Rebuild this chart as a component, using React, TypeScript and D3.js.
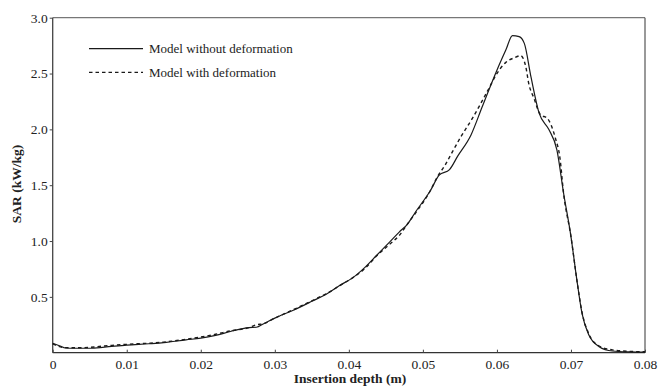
import React, { useEffect, useRef } from 'react';
import * as d3 from 'd3';

// insertion depth (m)
const depthNoDef = [0, 0.001, 0.0017, 0.003, 0.005, 0.007, 0.01, 0.013, 0.015, 0.018, 0.02, 0.022, 0.024, 0.0265, 0.0275, 0.0285, 0.03, 0.0325, 0.035, 0.0371, 0.0387, 0.0405, 0.0421, 0.0438, 0.0455, 0.0468, 0.0479, 0.049, 0.051, 0.0522, 0.0536, 0.0547, 0.0565, 0.058, 0.06, 0.0612, 0.0621, 0.063, 0.0637, 0.0646, 0.0657, 0.067, 0.0681, 0.069, 0.07, 0.0708, 0.0715, 0.0724, 0.0738, 0.0756, 0.078, 0.08];
// SAR (kW/kg), model without deformation
const sarNoDef = [0.085, 0.06, 0.042, 0.04, 0.04, 0.05, 0.068, 0.08, 0.09, 0.115, 0.13, 0.155, 0.19, 0.225, 0.228, 0.26, 0.31, 0.38, 0.46, 0.53, 0.6, 0.67, 0.76, 0.875, 0.99, 1.08, 1.15, 1.26, 1.45, 1.59, 1.64, 1.76, 1.95, 2.2, 2.53, 2.71, 2.84, 2.83, 2.77, 2.47, 2.145, 2.0, 1.816, 1.43, 1.04, 0.65, 0.35, 0.16, 0.054, 0.015, 0.007, 0.005];

const depthDef = [0, 0.0017, 0.004, 0.007, 0.01, 0.013, 0.015, 0.018, 0.02, 0.022, 0.024, 0.0265, 0.0275, 0.0285, 0.03, 0.0325, 0.035, 0.037, 0.039, 0.0405, 0.0421, 0.0438, 0.0455, 0.0468, 0.048, 0.049, 0.051, 0.052, 0.053, 0.054, 0.0551, 0.0567, 0.0587, 0.06, 0.0612, 0.0623, 0.0632, 0.0639, 0.0643, 0.065, 0.0659, 0.0668, 0.0679, 0.0685, 0.069, 0.07, 0.0708, 0.0715, 0.0724, 0.0738, 0.0756, 0.078, 0.08];
// SAR (kW/kg), model with deformation
const sarDef = [0.08, 0.045, 0.045, 0.06, 0.075, 0.085, 0.095, 0.12, 0.14, 0.165, 0.195, 0.225, 0.25, 0.26, 0.31, 0.385, 0.465, 0.53, 0.61, 0.67, 0.75, 0.87, 0.97, 1.05, 1.16, 1.25, 1.45, 1.58, 1.68, 1.8, 1.93, 2.1, 2.34, 2.5, 2.6, 2.64, 2.66, 2.56, 2.41, 2.28, 2.13, 2.1, 1.92, 1.75, 1.43, 1.04, 0.65, 0.36, 0.17, 0.06, 0.025, 0.012, 0.008];

const xTicks = [0, 0.01, 0.02, 0.03, 0.04, 0.05, 0.06, 0.07, 0.08];
const yTicks = [0.5, 1.0, 1.5, 2.0, 2.5, 3.0];
const seriesNames = ['Model without deformation', 'Model with deformation'];

const W = 658;
const H = 387;
const margin = { left: 52.7, right: 13, top: 17.7, bottom: 34.3 };
const font = '"Liberation Serif", "Times New Roman", serif';

export default function App() {
  const xRef = useRef<SVGGElement>(null);
  const yRef = useRef<SVGGElement>(null);

  const x = d3.scaleLinear().domain([0, 0.08]).range([margin.left, W - margin.right]);
  const y = d3.scaleLinear().domain([0, 3]).range([H - margin.bottom, margin.top]);

  const line = d3.line<[number, number]>()
    .x(d => x(d[0]))
    .y(d => y(d[1]))
    .curve(d3.curveMonotoneX);

  const solid = line(depthNoDef.map((d, i) => [d, sarNoDef[i]]));
  const dashed = line(depthDef.map((d, i) => [d, sarDef[i]]));

  useEffect(() => {
    const gx = d3.select(xRef.current);
    gx.selectAll('*').remove();
    gx.call(
      d3.axisBottom(x)
        .tickValues(xTicks)
        .tickSize(-3)
        .tickPadding(7)
        .tickFormat((d: any) => (d === 0 ? '0' : d3.format('.2f')(d)))
    );
    gx.select('.domain').remove();
    gx.selectAll('line').attr('stroke', '#444');
    gx.selectAll('text')
      .attr('font-family', font)
      .attr('font-size', 13.5)
      .attr('fill', '#222');

    const gy = d3.select(yRef.current);
    gy.selectAll('*').remove();
    gy.call(
      d3.axisLeft(y)
        .tickValues(yTicks)
        .tickSize(3)
        .tickPadding(2)
        .tickFormat(d3.format('.1f') as any)
    );
    gy.select('.domain').remove();
    gy.selectAll('line').attr('stroke', '#444');
    gy.selectAll('text')
      .attr('font-family', font)
      .attr('font-size', 13.5)
      .attr('fill', '#222');
  }, []);

  const x0 = margin.left;
  const x1 = W - margin.right;
  const y0 = H - margin.bottom;
  const y1 = margin.top;

  return (
    <svg width={W} height={H} style={{ position: 'absolute', left: 0, top: 0, background: '#fff' }}>
      <rect x={0} y={0} width={W} height={H} fill="#fff" />
      {/* frame */}
      <line x1={x0} x2={x1} y1={y1} y2={y1} stroke="#777" strokeWidth={1.2} />
      <line x1={x1} x2={x1} y1={y1} y2={y0} stroke="#555" strokeWidth={1.2} />
      <line x1={x0} x2={x0} y1={y1} y2={y0} stroke="#444" strokeWidth={1.3} />
      <line x1={x0} x2={x1} y1={y0} y2={y0} stroke="#333" strokeWidth={1.3} />

      <g ref={xRef} transform={`translate(0,${y0})`} />
      <g ref={yRef} transform={`translate(${x0},0)`} />

      <path d={solid ?? ''} fill="none" stroke="#1a1a1a" strokeWidth={1.2} />
      <path d={dashed ?? ''} fill="none" stroke="#1a1a1a" strokeWidth={1.4} strokeDasharray="3.5,3" />

      {/* legend */}
      <line x1={89} x2={143} y1={48.7} y2={48.7} stroke="#1a1a1a" strokeWidth={1.2} />
      <text x={149} y={53} fontFamily={font} fontSize={13} fill="#222">{seriesNames[0]}</text>
      <line x1={89} x2={143} y1={72.3} y2={72.3} stroke="#1a1a1a" strokeWidth={1.2} strokeDasharray="3.5,3" />
      <text x={149} y={76.5} fontFamily={font} fontSize={13} fill="#222">{seriesNames[1]}</text>

      {/* axis titles */}
      <text
        transform={`translate(21,184) rotate(-90)`}
        textAnchor="middle"
        fontFamily={font}
        fontSize={13.5}
        fontWeight="bold"
        fill="#222"
      >
        SAR (kW/kg)
      </text>
      <text x={350} y={383} textAnchor="middle" fontFamily={font} fontSize={13.5} fontWeight="bold" fill="#222">
        Insertion depth (m)
      </text>
    </svg>
  );
}
